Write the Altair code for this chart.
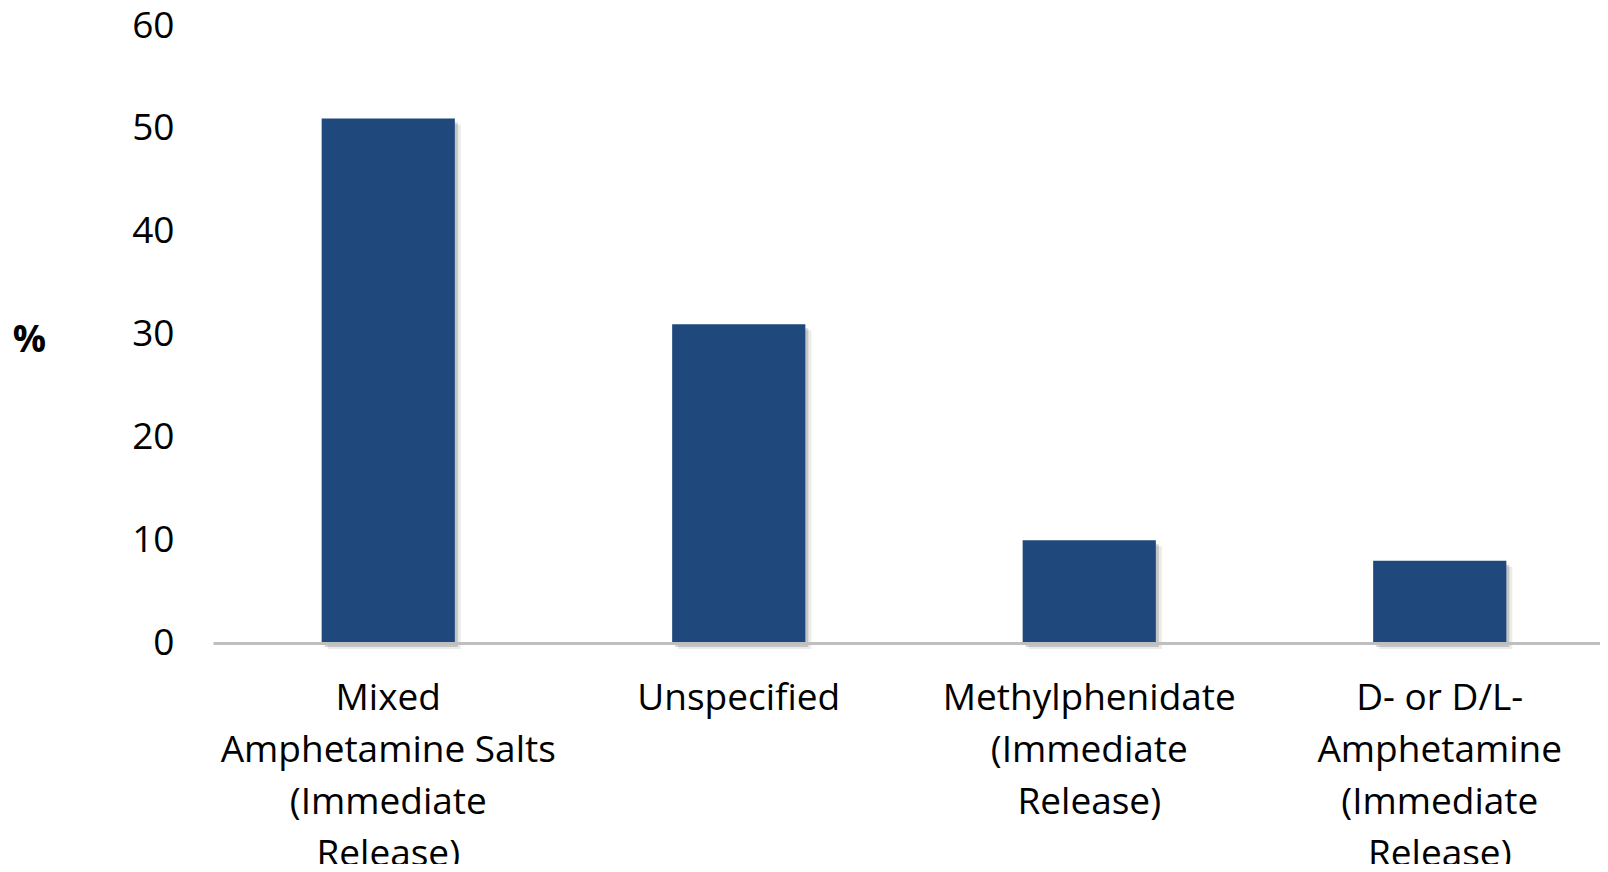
import altair as alt
import pandas as pd

# bar labels, "|" marks a line break in the axis label
categories = [
    "Mixed|Amphetamine Salts|(Immediate|Release)",
    "Unspecified",
    "Methylphenidate|(Immediate|Release)",
    "D- or D/L-|Amphetamine|(Immediate|Release)",
]
percent = [51, 31, 10, 8]
y_ticks = [0, 10, 20, 30, 40, 50, 60]

df = pd.DataFrame({"drug": categories, "pct": percent})

font = "Open Sans"
bar_colour = "#1F497D"

x_enc = alt.X(
    "drug:N",
    sort=None,
    title=None,
    scale=alt.Scale(range=[0, 1402], paddingInner=0.62, paddingOuter=0.31),
    axis=alt.Axis(
        labelExpr="split(datum.label, '|')",
        labelAngle=0,
        labelFont=font,
        labelFontSize=37,
        labelColor="black",
        labelLineHeight=52,
        labelBaseline="top",
        labelPadding=37,
        labelLimit=0,
        ticks=False,
        domainColor="#BFBFBF",
        domainWidth=3,
        zindex=1,
    ),
)

y_enc = alt.Y(
    "pct:Q",
    scale=alt.Scale(domain=[0, 60]),
    axis=alt.Axis(
        values=y_ticks,
        grid=False,
        domain=False,
        ticks=False,
        labelFont=font,
        labelFontSize=37,
        labelColor="black",
        labelPadding=39,
        labelFlush=False,
        title="%",
        titleFont=font,
        titleFontSize=37,
        titleFontWeight="bold",
        titleColor="black",
        titleAngle=0,
        titleAlign="center",
        titleBaseline="middle",
        titleX=-184,
        titleY=314,
    ),
)

base = alt.Chart(df).encode(x=x_enc, y=y_enc)

# soft drop shadow to the right of each bar
shadow_far = base.mark_bar(color="black", opacity=0.08, xOffset=6, yOffset=6)
shadow_near = base.mark_bar(color="black", opacity=0.16, xOffset=3, yOffset=4)
bars = base.mark_bar(color=bar_colour)

chart = (
    alt.layer(shadow_far, shadow_near, bars)
    .properties(
        width=1387,
        height=617,
        autosize=alt.AutoSizeParams(type="none"),
        padding={"left": 205, "top": 18, "right": 0, "bottom": 221},
        background="white",
    )
    .configure_view(stroke=None)
)

chart.save("out.html", embed_options={"renderer": "svg", "actions": False})
